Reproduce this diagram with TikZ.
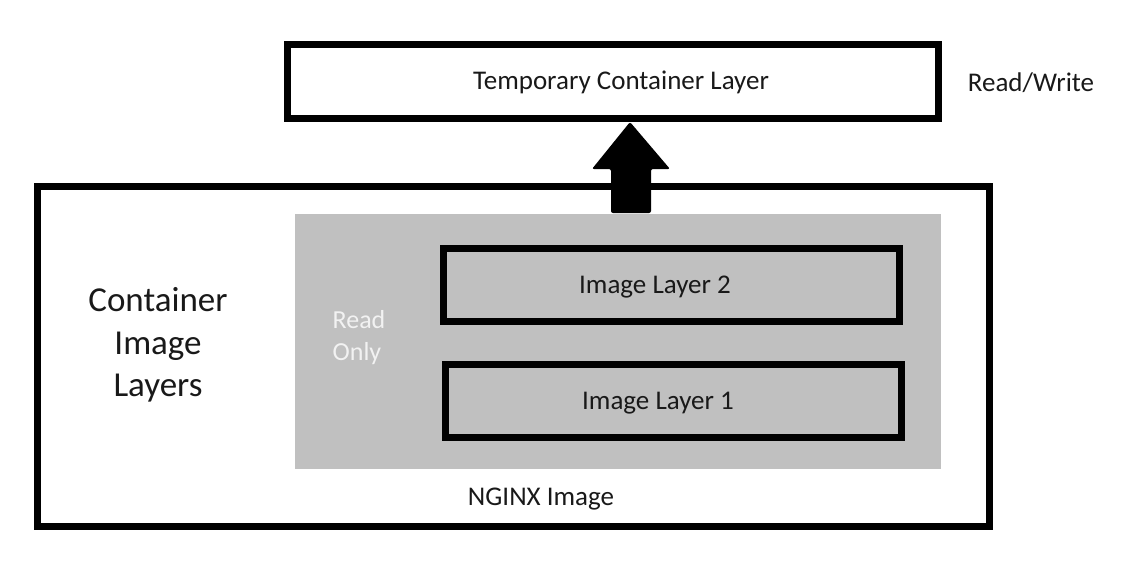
\documentclass[tikz,border=0pt]{standalone}
\usepackage{fontspec}
\setmainfont{Carlito}
\begin{document}
\begin{tikzpicture}[x=1pt,y=-1pt,
  thickbox/.style={draw=black,line width=7pt},
  lbl/.style={font=\fontsize{27}{32}\selectfont,text=black!90},
]
\useasboundingbox (0,0) rectangle (1127,575);
% outer image box
\node[thickbox,minimum width=952pt,minimum height=340pt,inner sep=0pt] (outer) at (513.5,356.5) {};
% gray read-only area
\fill[fill={rgb,255:red,192;green,192;blue,192}] (295,214) rectangle (941,469);
\node[inner sep=0pt] (gray) at (618,341.5) {};
% top box
\node[thickbox,fill=white,minimum width=651pt,minimum height=74pt,inner sep=0pt] (top) at (613,81.5) {};
% layer boxes
\node[thickbox,minimum width=456pt,minimum height=73pt,inner sep=0pt] (l2) at (671.5,285) {};
\node[thickbox,minimum width=456pt,minimum height=73pt,inner sep=0pt] (l1) at (673.5,401) {};
% texts
\node[lbl] (ttop) at (621,82) {Temporary Container Layer};
\node[lbl] (rw) at (1031,83) {Read/Write};
\node[lbl] (t2) at (655,287) {Image Layer 2};
\node[lbl] (t1) at (658,403) {Image Layer 1};
\node[lbl] (ng) at (541,499) {NGINX Image};
\node[font=\fontsize{26}{32}\selectfont,text={rgb,255:red,242;green,242;blue,242},align=left] (ro) at (359,338) {Read\\Only};
\node[font=\fontsize{35}{42.5}\selectfont,align=center,text=black!90] (cil) at (158,345) {Container\\Image\\Layers};
% arrow
\coordinate (tip) at (630,122);
\fill[black,rounded corners=2pt] (631,213) -- (651,213) -- (651,169) -- (670,169) -- (tip) -- (592,169) -- (611,169) -- (611,213) -- cycle;
\end{tikzpicture}
\end{document}
